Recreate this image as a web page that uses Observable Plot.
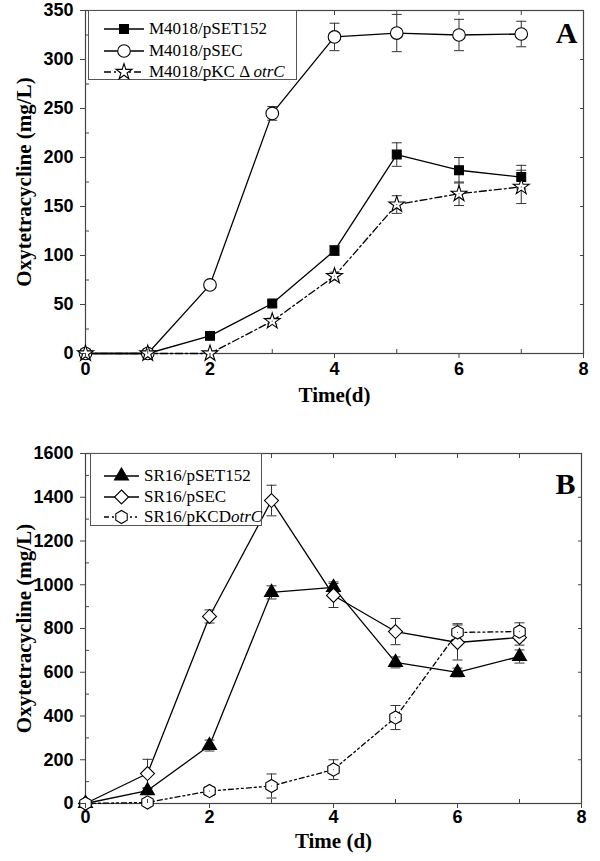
<!DOCTYPE html>
<html><head><meta charset="utf-8">
<script src="https://cdn.jsdelivr.net/npm/d3@7"></script>
<script src="https://cdn.jsdelivr.net/npm/@observablehq/plot@0.6"></script>
<style>
body{margin:0;background:#fff;}
#wrap{position:relative;width:600px;height:861px;background:#fff;}
.panel{position:absolute;left:0;}
.legend{position:absolute;border:1.2px solid #555;background:#fff;font-family:"Liberation Serif","Times New Roman",serif;font-size:17px;color:#000;box-sizing:border-box;}
.legend .row{position:absolute;left:0;white-space:nowrap;line-height:22px;}
.legend svg{position:absolute;left:0;top:0;overflow:visible;}
</style></head>
<body><div id="wrap"></div>
<script>
// ---------- Data ----------
const days = [0, 1, 2, 3, 4, 5, 6, 7];

// Panel A (mg/L)
const aSeriesNames = ["M4018/pSET152", "M4018/pSEC", "M4018/pKC Δ otrC"];
const aSET152 = [0, 0, 18, 51, 105, 203, 187, 180];
const aSET152Err = [0, 0, 2, 3, 5, 12, 13, 12];
const aSEC = [0, 0, 70, 245, 323, 327, 325, 326];
const aSECErr = [0, 0, 2, 7, 14, 19, 16, 13];
const aKC = [0, 0, 0, 33, 79, 152, 163, 170];
const aKCErr = [0, 0, 0, 3, 4, 9, 12, 17];
const aYTicks = [0, 50, 100, 150, 200, 250, 300, 350];

// Panel B (mg/L)
const bSeriesNames = ["SR16/pSET152", "SR16/pSEC", "SR16/pKCDotrC"];
const bSET152 = [0, 59, 265, 965, 988, 645, 599, 672];
const bSET152Err = [0, 10, 25, 30, 25, 25, 20, 30];
const bSEC = [0, 137, 855, 1385, 951, 786, 736, 759];
const bSECErr = [0, 65, 30, 70, 55, 60, 80, 35];
const bKC = [0, 5, 57, 80, 155, 393, 782, 786];
const bKCErr = [0, 0, 20, 55, 45, 55, 40, 40];
const bYTicks = [0, 200, 400, 600, 800, 1000, 1200, 1400, 1600];

const xTicks = [0, 2, 4, 6, 8];
const xMinor = [1, 3, 5, 7];

// ---------- helpers ----------
const capSymbol = { draw(ctx, size) { const w = 5; ctx.moveTo(-w, 0); ctx.lineTo(w, 0); } };
const hexSymbol = { draw(ctx, size) {
  const r = Math.sqrt(size / (1.5 * Math.sqrt(3)));
  for (let i = 0; i < 6; i++) { const a = Math.PI / 2 + i * Math.PI / 3; const x = r * Math.cos(a), y = r * Math.sin(a); i ? ctx.lineTo(x, y) : ctx.moveTo(x, y); }
  ctx.closePath();
} };
const dotSymbol = { draw(ctx, size) { ctx.moveTo(0.6, 0); ctx.arc(0, 0, 0.6, 0, 2 * Math.PI); } };
function rows(vals, errs, name) {
  return days.map((d, i) => ({ day: d, v: vals[i], e: errs[i], lo: vals[i] - errs[i], hi: vals[i] + errs[i], name }));
}
const sans = "Liberation Sans, Arial, Helvetica, sans-serif";
const serif = "Liberation Serif, Times New Roman, serif";

function panel({ series, yMax, yTicks, yMinor, top, height, margins, xLabel, xLabelDy, xPad, letter, letterDy }) {
  const marks = [];
  marks.push(Plot.frame({ stroke: "#444", strokeWidth: 1.2 }));
  for (const s of series) {
    marks.push(Plot.line(s.data, { x: "day", y: "v", stroke: "#000", strokeWidth: 1.3, strokeDasharray: s.dash }));
  }
  for (const s of series) {
    const ed = s.data.filter(d => d.e > 0);
    marks.push(Plot.ruleX(ed, { x: "day", y1: "lo", y2: "hi", stroke: "#333", strokeWidth: 1 }));
    marks.push(Plot.dot(ed, { x: "day", y: "lo", symbol: capSymbol, stroke: "#333", strokeWidth: 1 }));
    marks.push(Plot.dot(ed, { x: "day", y: "hi", symbol: capSymbol, stroke: "#333", strokeWidth: 1 }));
  }
  for (const s of series) {
    marks.push(Plot.dot(s.data, { x: "day", y: "v", symbol: s.symbol, r: s.r, fill: s.fill, stroke: "#000", strokeWidth: 1.1 }));
    if (s.centerDot) marks.push(Plot.dot(s.data, { x: "day", y: "v", symbol: dotSymbol, fill: "#555", stroke: null }));
  }
  const fmt = d => String(d);
  marks.push(Plot.axisX({ ticks: xTicks, tickSize: 5, tickPadding: xPad, tickFormat: fmt, label: null, fontSize: 18, fontWeight: "bold", fontFamily: sans, stroke: "#444" }));
  marks.push(Plot.axisX({ ticks: xMinor, tickSize: -4, text: null, label: null, stroke: "#444" }));
  marks.push(Plot.axisX({ anchor: "top", ticks: xTicks.concat(xMinor), tickSize: -4, text: null, label: null, stroke: "#444" }));
  marks.push(Plot.axisY({ ticks: yTicks, tickSize: 5, tickPadding: 7, tickFormat: fmt, label: null, fontSize: 18, fontWeight: "bold", fontFamily: sans, stroke: "#444" }));
  marks.push(Plot.axisY({ ticks: yMinor, tickSize: -4, text: null, label: null, stroke: "#444" }));
  marks.push(Plot.axisY({ anchor: "right", ticks: yTicks, tickSize: -4, text: null, label: null, stroke: "#444" }));
  marks.push(Plot.text([xLabel], { frameAnchor: "bottom", dy: xLabelDy, text: d => d, fontSize: 21, fontWeight: "bold", fontFamily: serif, lineAnchor: "middle", textAnchor: "middle" }));
  marks.push(Plot.text(["Oxytetracycline (mg/L)"], { frameAnchor: "left", dx: -61, rotate: -90, text: d => d, fontSize: 21, fontWeight: "bold", fontFamily: serif, lineAnchor: "middle", textAnchor: "middle" }));
  marks.push(Plot.text([letter], { frameAnchor: "top-right", dx: -6, dy: letterDy, text: d => d, fontSize: 30, fontWeight: "bold", fontFamily: serif, textAnchor: "end", lineAnchor: "bottom" }));

  const chart = Plot.plot({
    width: 600, height,
    marginLeft: margins[0], marginRight: margins[1], marginTop: margins[2], marginBottom: margins[3],
    x: { domain: [0, 8], axis: null },
    y: { domain: [0, yMax], axis: null },
    style: { fontFamily: sans, background: "#fff", overflow: "visible" },
    marks
  });
  const div = document.createElement("div");
  div.className = "panel";
  div.style.top = top + "px";
  div.appendChild(chart);
  document.getElementById("wrap").appendChild(div);
}

const A = [
  { data: rows(aSET152, aSET152Err, aSeriesNames[0]), symbol: "square", r: 5, fill: "#000", dash: null },
  { data: rows(aSEC, aSECErr, aSeriesNames[1]), symbol: "circle", r: 6.3, fill: "#fff", dash: null },
  { data: rows(aKC, aKCErr, aSeriesNames[2]), symbol: "star", r: 5, fill: "#fff", dash: "7,3,2,3", centerDot: true }
];
const B = [
  { data: rows(bSET152, bSET152Err, bSeriesNames[0]), symbol: "triangle", r: 5.2, fill: "#000", dash: null },
  { data: rows(bSEC, bSECErr, bSeriesNames[1]), symbol: "diamond2", r: 6.3, fill: "#fff", dash: null },
  { data: rows(bKC, bKCErr, bSeriesNames[2]), symbol: hexSymbol, r: 6, fill: "#fff", dash: "5,3,2,3,2,3", centerDot: true }
];

panel({ series: A, yMax: 350, yTicks: aYTicks, yMinor: d3.range(25, 350, 50), top: 0, height: 430,
  margins: [85, 17, 10, 77], xLabel: "Time(d)", xLabelDy: 42, xPad: 4, letter: "A", letterDy: 32 });
panel({ series: B, yMax: 1600, yTicks: bYTicks, yMinor: d3.range(100, 1600, 200), top: 430, height: 431,
  margins: [85, 19, 23, 58], xLabel: "Time (d)", xLabelDy: 38, xPad: 2, letter: "B", letterDy: 40 });

// ---------- legends ----------
const symMap = { square: d3.symbolSquare, circle: d3.symbolCircle, star: d3.symbolStar, triangle: d3.symbolTriangle, diamond2: d3.symbolDiamond2 };
function legend(series, labels, box, rowYs, lineX, textX) {
  const div = document.createElement("div");
  div.className = "legend";
  Object.assign(div.style, { left: box[0] + "px", top: box[1] + "px", width: (box[2] - box[0]) + "px", height: (box[3] - box[1]) + "px" });
  const svg = d3.create("svg").attr("width", box[2] - box[0]).attr("height", box[3] - box[1]);
  series.forEach((s, i) => {
    const y = rowYs[i] - box[1];
    svg.append("line").attr("x1", lineX[0] - box[0]).attr("x2", lineX[1] - box[0]).attr("y1", y).attr("y2", y)
      .attr("stroke", "#000").attr("stroke-width", 1.3).attr("stroke-dasharray", s.dash);
    const type = typeof s.symbol === "string" ? symMap[s.symbol] : s.symbol;
    svg.append("path").attr("transform", `translate(${(lineX[0] + lineX[1]) / 2 - box[0]},${y})`)
      .attr("d", d3.symbol(type, Math.PI * s.r * s.r)())
      .attr("fill", s.fill).attr("stroke", "#000").attr("stroke-width", 1.1);
  });
  div.appendChild(svg.node());
  labels.forEach((html, i) => {
    const r = document.createElement("div");
    r.className = "row";
    r.innerHTML = html;
    r.style.left = (textX - box[0]) + "px";
    r.style.top = (rowYs[i] - box[1] - 11) + "px";
    div.appendChild(r);
  });
  document.getElementById("wrap").appendChild(div);
}
legend(A, [aSeriesNames[0], aSeriesNames[1], "M4018/pKC Δ <i>otrC</i>"],
  [88, 10, 297, 80], [28, 50, 71], [103, 143], 148);
legend(B, [bSeriesNames[0], bSeriesNames[1], "SR16/pKCD<i>otrC</i>"],
  [90, 453, 262, 526], [475, 496, 516], [103, 138], 143);
</script></body></html>
